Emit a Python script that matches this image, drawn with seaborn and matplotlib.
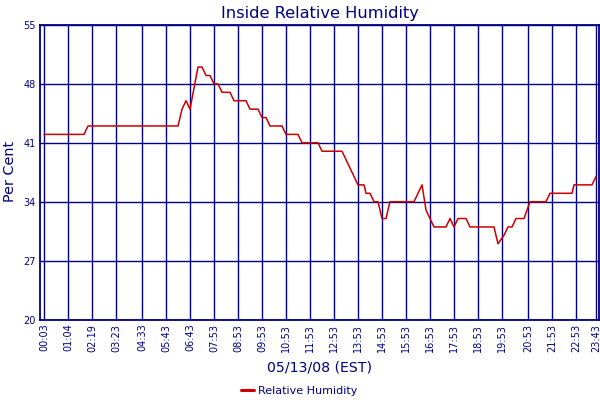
import pandas as pd
import matplotlib
matplotlib.use("Agg")
import matplotlib.pyplot as plt
import seaborn as sns

# sample index (one reading per sample) and humidity at the corners of the trace
sample_idx = [0, 20, 22, 67, 69, 71, 73, 77, 79, 81, 83, 85, 87, 89, 93, 95,
              101, 103, 107, 109, 111, 113, 119, 121, 127, 129, 137, 139, 149,
              157, 160, 161, 163, 165, 167, 169, 171, 173, 185, 189, 191, 193,
              195, 201, 203, 205, 207, 211, 213, 225, 227, 230, 232, 234, 236,
              240, 243, 251, 253, 264, 265, 274, 276]
humidity = [42, 42, 43, 43, 45, 46, 45, 50, 50, 49, 49, 48, 48, 47, 47, 46,
            46, 45, 45, 44, 44, 43, 43, 42, 42, 41, 41, 40, 40,
            36, 36, 35, 35, 34, 34, 32, 32, 34, 34, 36, 33, 32,
            31, 31, 32, 31, 32, 32, 31, 31, 29, 30, 31, 31, 32,
            32, 34, 34, 35, 35, 36, 36, 37]

tick_idx = [0, 12, 24, 36, 49, 61, 73, 85, 97, 109, 121, 133, 145, 157, 169,
            181, 193, 205, 217, 229, 242, 254, 266, 276]
tick_labels = ["00:03", "01:04", "02:19", "03:23", "04:33", "05:43", "06:43",
               "07:53", "08:53", "09:53", "10:53", "11:53", "12:53", "13:53",
               "14:53", "15:53", "16:53", "17:53", "18:53", "19:53", "20:53",
               "21:53", "22:53", "23:43"]
y_ticks = [20, 27, 34, 41, 48, 55]

df = pd.DataFrame({"sample": sample_idx, "Relative Humidity": humidity})

navy = "#000080"
sns.set_style("white")
plt.rcParams["font.family"] = ["DejaVu Sans"]

fig = plt.figure(figsize=(6, 4), dpi=100)
ax = fig.add_axes([40 / 600, 1 - 319.5 / 400, 559 / 600, 294.5 / 400])

sns.lineplot(data=df, x="sample", y="Relative Humidity", color="#cc0000",
             linewidth=1.1, ax=ax, label="Relative Humidity", legend=False)

ax.set_xlim(-2, 277.5)
ax.set_ylim(20, 55)
ax.set_xticks(tick_idx)
ax.set_xticklabels(tick_labels, rotation=90)
ax.set_yticks(y_ticks)
ax.tick_params(length=0, colors=navy, labelsize=7, pad=3)
ax.grid(True, color=navy, linewidth=1.0)
ax.set_axisbelow(True)
for s in ax.spines.values():
    s.set_color(navy)
    s.set_linewidth(1.3)

ax.set_title("Inside Relative Humidity", color=navy, fontsize=11.7, pad=5)
ax.set_xlabel("05/13/08 (EST)", color=navy, fontsize=10.2, labelpad=6)
ax.set_ylabel("")
fig.text(10 / 600, 1 - 171 / 400, "Per Cent", color=navy, fontsize=10.4,
         rotation=90, ha="center", va="center")

handles, labels = ax.get_legend_handles_labels()
leg = fig.legend(handles, labels, loc="center",
                 bbox_to_anchor=(299 / 600, 1 - 391 / 400),
                 frameon=False, fontsize=8, handlelength=1.2, handletextpad=0.3,
                 labelcolor=navy, borderpad=0)
for line in leg.get_lines():
    line.set_linewidth(2.2)

fig.savefig("out.png", dpi=100)
